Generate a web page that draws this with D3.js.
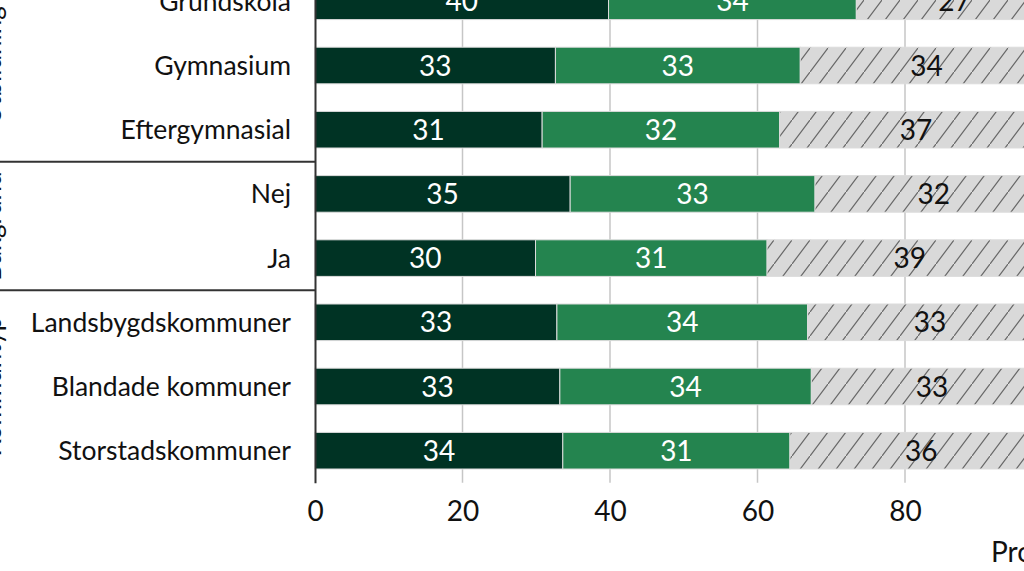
<!DOCTYPE html>
<html><head><meta charset="utf-8">
<script src="https://cdn.jsdelivr.net/npm/d3@7"></script>
<style>html,body{margin:0;padding:0;background:#fff;overflow:hidden}</style>
</head><body><svg id="c" width="1024" height="571"></svg>
<script>
const categories = ["Grundskola","Gymnasium","Eftergymnasial","Nej","Ja","Landsbygdskommuner","Blandade kommuner","Storstadskommuner"];
const groupNames = ["Utbildning","Bakgrund","Kommuntyp"];
const groupOf = [0,0,0,1,1,2,2,2];
const seriesA = [39.8,32.6,30.8,34.6,29.9,32.8,33.2,33.6];
const seriesB = [33.6,33.2,32.2,33.2,31.4,34.0,34.1,30.8];
const seriesC = [26.6,34.2,37.0,32.2,38.7,33.2,32.7,35.6];
const xTicks = [0,20,40,60,80,100];
const axisTitle = "Procent";

const FONT = "Lato, 'Noto Sans', sans-serif";
const colors = ["#003324","#24844f","url(#hatch)"];
const labelColors = ["#ffffff","#ffffff","#111111"];

const rows = categories.map((c,i)=>({cat:c, a:seriesA[i], b:seriesB[i], c:seriesC[i]}));
const keys = ["a","b","c"];
const stacked = d3.stack().keys(keys)(rows);

const svg = d3.select("#c");
const defs = svg.append("defs");
const pat = defs.append("pattern").attr("id","hatch").attr("patternUnits","userSpaceOnUse")
  .attr("width",18).attr("height",24);
pat.append("rect").attr("width",18).attr("height",24).attr("fill","#d9d9d9");
pat.append("line").attr("x1",-1).attr("y1",25.33).attr("x2",19).attr("y2",-1.33)
  .attr("stroke","#666666").attr("stroke-width",1.2);

const x = d3.scaleLinear().domain([0,100]).range([315,1052.5]);
const y = d3.scaleBand().domain(categories).range([-30.8,482.8]).paddingInner(0.43).paddingOuter(0.215);
const step = y.step();
const gap = (step - y.bandwidth())/2;
const plotTop = y.range()[0], plotBottom = y.range()[1];

// gridlines
svg.append("g").selectAll("line").data(xTicks.filter(t=>t>0)).join("line")
  .attr("x1",d=>x(d)).attr("x2",d=>x(d)).attr("y1",plotTop).attr("y2",plotBottom)
  .attr("stroke","#c6c6c6").attr("stroke-width",1.5);

// bars
const layers = svg.append("g").selectAll("g").data(stacked).join("g")
  .attr("fill",(d,i)=>colors[i]);
layers.selectAll("rect").data(d=>d).join("rect")
  .attr("x",d=>x(d[0])).attr("width",d=>x(d[1])-x(d[0]))
  .attr("y",d=>y(d.data.cat)).attr("height",y.bandwidth())
  .attr("stroke","#dcdcdc").attr("stroke-width",1);

// value labels
stacked.forEach((layer,i)=>{
  svg.append("g").selectAll("text").data(layer).join("text")
    .attr("x",d=>(x(d[0])+x(d[1]))/2)
    .attr("y",d=>y(d.data.cat)+y.bandwidth()/2)
    .attr("dy","0.36em").attr("text-anchor","middle")
    .attr("font-family",FONT).attr("font-size",28)
    .attr("fill",labelColors[i])
    .text(d=>Math.round(d[1]-d[0]));
});

// left axis
const ax = svg.append("g").attr("transform","translate(315,0)")
  .call(d3.axisLeft(y).tickSize(0).tickSizeOuter(0).tickPadding(24));
ax.select(".domain").attr("stroke","#333").attr("stroke-width",2);
ax.selectAll("text").attr("font-family",FONT).attr("font-size",26.5).attr("fill","#111").attr("dy","0.36em");

// bottom axis
const bx = svg.append("g").attr("transform",`translate(0,${plotBottom})`)
  .call(d3.axisBottom(x).tickValues(xTicks).tickSize(0).tickFormat(d3.format("d")));
bx.select(".domain").remove();
bx.selectAll("text").attr("font-family",FONT).attr("font-size",28).attr("fill","#111")
  .attr("y",28).attr("dy","0.36em");

svg.append("text").attr("x",991).attr("y",562).attr("font-family",FONT).attr("font-size",28)
  .attr("fill","#111").text(axisTitle);

// group separators and labels
groupNames.forEach((g,gi)=>{
  const members = categories.filter((c,i)=>groupOf[i]===gi);
  const first = members[0], last = members[members.length-1];
  const cy = (y(first)+y(last)+y.bandwidth())/2;
  svg.append("text").attr("transform",`translate(0.5,${cy}) rotate(-90)`)
    .attr("text-anchor","middle").attr("font-family",FONT).attr("font-size",26)
    .attr("fill","#111").text(g);
  if(gi>0){
    const sy = y(first)-gap;
    svg.append("line").attr("x1",-10).attr("x2",315).attr("y1",sy).attr("y2",sy)
      .attr("stroke","#333").attr("stroke-width",2);
  }
});
</script></body></html>
